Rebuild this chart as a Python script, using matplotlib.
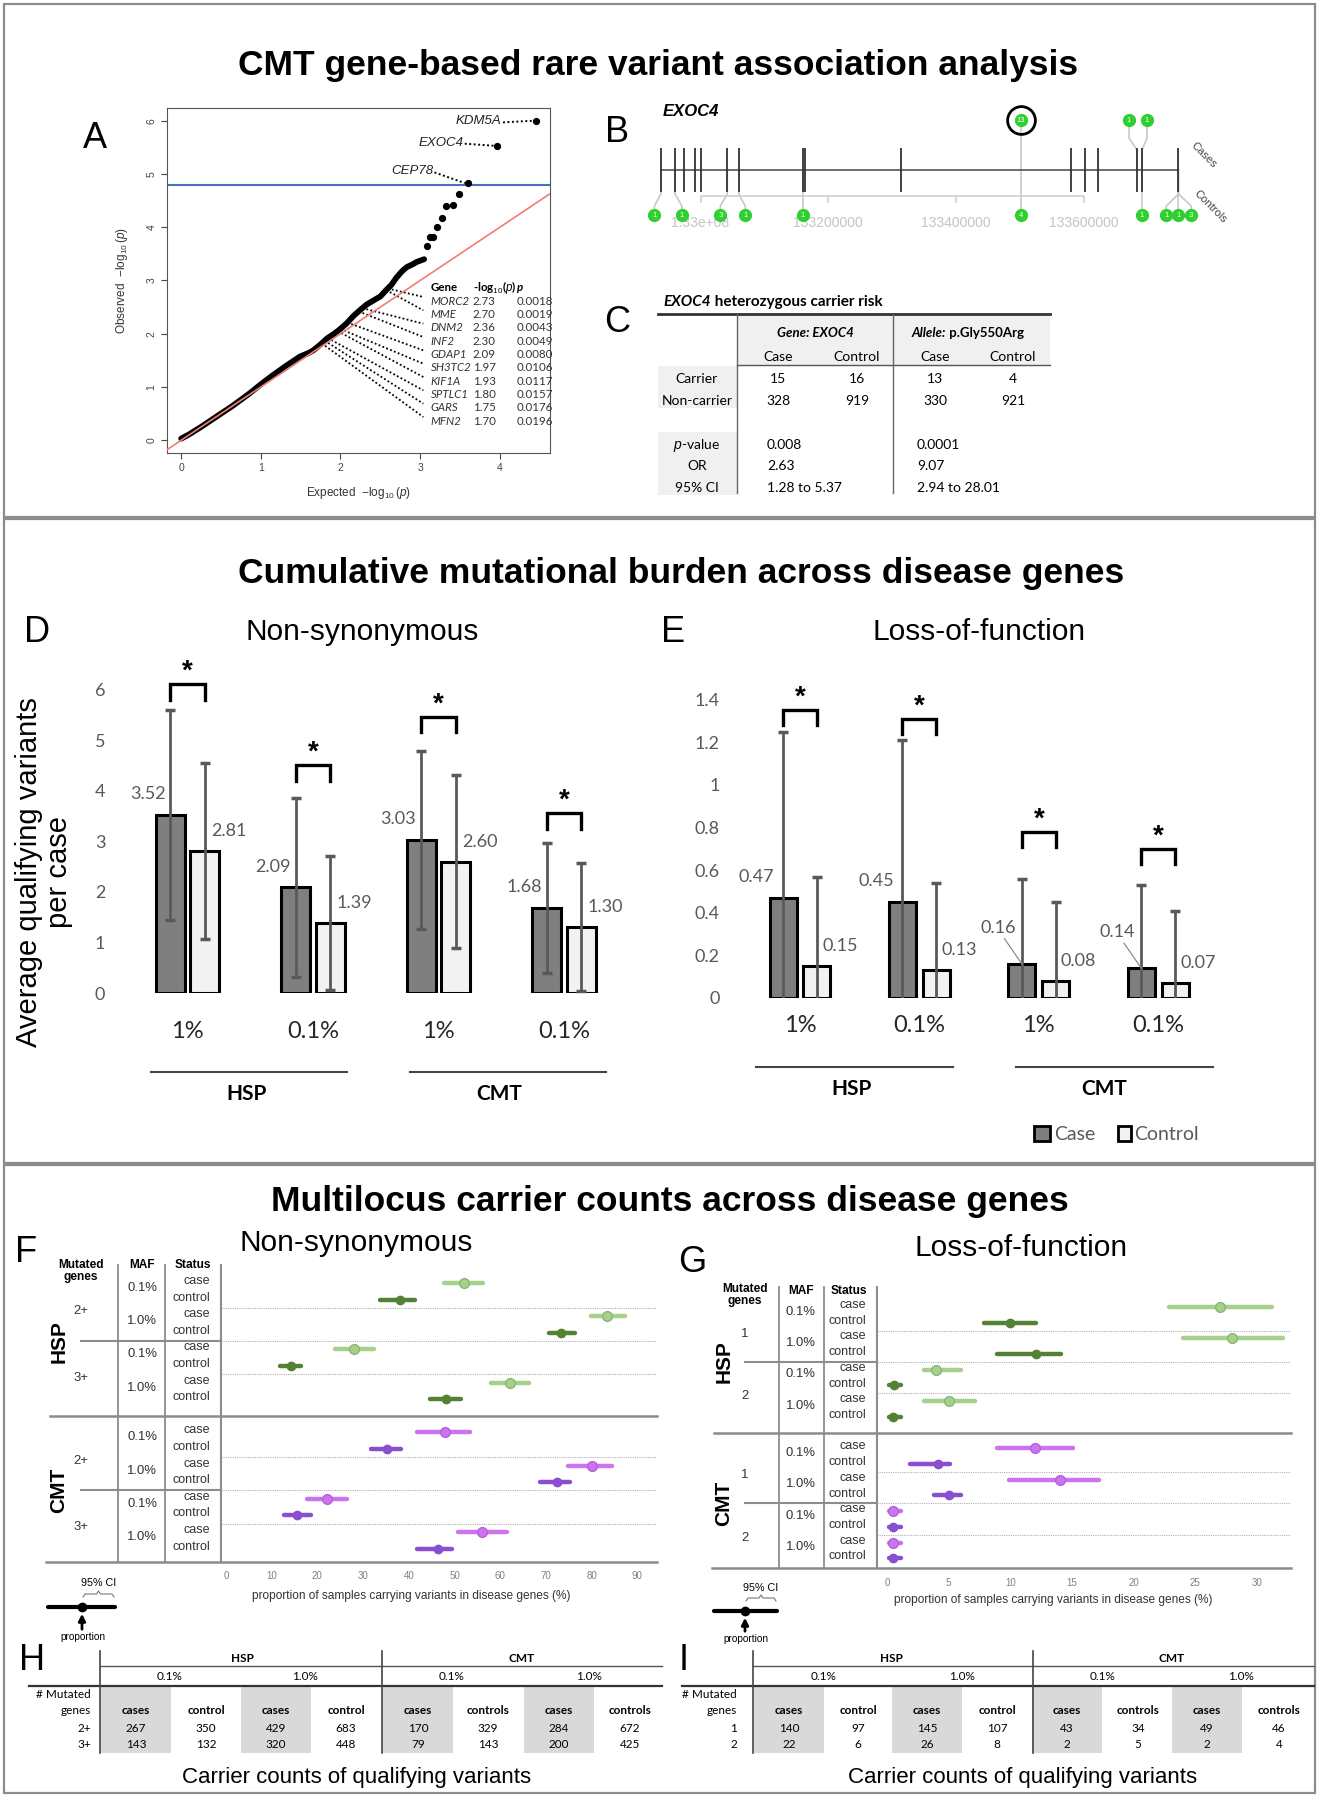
import matplotlib
matplotlib.use('Agg')
import matplotlib.pyplot as plt
import matplotlib.transforms as mtransforms
from matplotlib import font_manager
from matplotlib.patches import Rectangle
import numpy as np

plt.rcParams['font.family'] = 'Liberation Sans'
plt.rcParams['mathtext.fontset'] = 'custom'
plt.rcParams['mathtext.rm'] = 'Liberation Sans'
plt.rcParams['mathtext.it'] = 'Liberation Sans:italic'
plt.rcParams['mathtext.bf'] = 'Liberation Sans:bold'

_names = {f.name for f in font_manager.fontManager.ttflist}
NARROW = 'Liberation Sans Narrow' if 'Liberation Sans Narrow' in _names else 'Liberation Sans'
NS = 1.0 if NARROW != 'Liberation Sans' else 0.86
XL = 'Lato'

W, H = 1322, 1800

# ---------------- data ----------------
# A: gene-based QQ plot
qq_expected = [0.0, 0.1, 0.25, 0.45, 0.65, 0.85, 1.0, 1.15, 1.32, 1.49, 1.6, 1.66, 1.75, 1.83, 1.92,
               1.99, 2.08, 2.16, 2.25, 2.33, 2.42, 2.5, 2.58, 2.64, 2.70, 2.77, 2.83, 2.9, 2.96, 3.05]
qq_observed = [0.03, 0.11, 0.25, 0.45, 0.65, 0.87, 1.05, 1.22, 1.40, 1.57, 1.64, 1.69, 1.8, 1.91, 2.0,
               2.08, 2.2, 2.33, 2.45, 2.55, 2.63, 2.7, 2.83, 2.92, 3.05, 3.17, 3.25, 3.3, 3.35, 3.40]
qq_top_expected = [3.08, 3.12, 3.16, 3.21, 3.27, 3.33, 3.41, 3.49, 3.60, 3.97, 4.45]
qq_top_observed = [3.64, 3.81, 3.81, 4.00, 4.18, 4.40, 4.42, 4.63, 4.83, 5.53, 6.00]
top_genes = ['CEP78', 'EXOC4', 'KDM5A']
bonferroni_line = 4.8
table_genes = ['MORC2', 'MME', 'DNM2', 'INF2', 'GDAP1', 'SH3TC2', 'KIF1A', 'SPTLC1', 'GARS', 'MFN2']
table_logp = [2.73, 2.70, 2.36, 2.30, 2.09, 1.97, 1.93, 1.80, 1.75, 1.70]
table_p = ['0.0018', '0.0019', '0.0043', '0.0049', '0.0080', '0.0106', '0.0117', '0.0157', '0.0176', '0.0196']

# B: EXOC4 variant track
exon_pos = [132938000, 132960000, 132974000, 132991000, 133001000, 133042000, 133060000,
            133160000, 133164000, 133314000, 133580000, 133601000, 133622000, 133683000,
            133691000, 133748000]
case_var_pos = [133501000, 133683000, 133691000]
case_bubble_pos = [133501000, 133670700, 133698800]
case_counts = [13, 1, 1]
ctrl_var_pos = [132938000, 132960000, 133042000, 133060000, 133160000, 133501000,
                133691000, 133748000, 133748000, 133748000]
ctrl_bubble_pos = [132928000, 132971000, 133031000, 133070000, 133160000, 133501000,
                   133691000, 133729000, 133748000, 133768000]
ctrl_counts = [1, 1, 3, 1, 1, 4, 1, 1, 1, 3]
genome_ticks = [133000000, 133200000, 133400000, 133600000]
genome_labels = ['1.33e+08', '133200000', '133400000', '133600000']

# C: EXOC4 carrier table
c_rows = ['Carrier', 'Non-carrier']
c_gene_case = [15, 328]
c_gene_ctrl = [16, 919]
c_allele_case = [13, 330]
c_allele_ctrl = [4, 921]
c_stats = [r'$p$-value', 'OR', '95% CI']
c_gene_stats = ['0.008', '2.63', '1.28 to 5.37']
c_allele_stats = ['0.0001', '9.07', '2.94 to 28.01']

# D / E: cumulative burden
maf_cats = ['1%', '0.1%', '1%', '0.1%']
d_case = [3.52, 2.09, 3.03, 1.68]
d_ctrl = [2.81, 1.39, 2.60, 1.30]
d_case_err = [2.08, 1.78, 1.77, 1.28]
d_ctrl_err = [1.75, 1.33, 1.71, 1.27]
d_bracket = [6.12, 4.51, 5.47, 3.56]
e_case = [0.47, 0.45, 0.16, 0.14]
e_ctrl = [0.15, 0.13, 0.08, 0.07]
e_case_err = [0.78, 0.76, 0.40, 0.39]
e_ctrl_err = [0.42, 0.41, 0.37, 0.34]
e_bracket = [1.35, 1.31, 0.78, 0.70]

# F / G: carrier proportions (%) with 95% CI, rows: HSP then CMT
f_center = [52.1, 38.0, 83.4, 73.2, 28.1, 14.2, 62.2, 48.2, 48.0, 35.2, 80.1, 72.4, 22.0, 15.5, 56.0, 46.4]
f_low = [47.8, 33.8, 79.8, 70.7, 23.8, 11.8, 57.9, 44.7, 41.7, 31.7, 74.9, 68.6, 17.8, 12.7, 50.7, 41.9]
f_high = [56.3, 41.3, 87.2, 76.4, 32.4, 16.4, 66.3, 51.4, 53.3, 38.4, 84.4, 75.3, 26.4, 18.5, 61.4, 49.4]
g_center = [27.0, 10.0, 28.0, 12.1, 4.0, 0.6, 5.0, 0.5, 12.0, 4.1, 14.0, 5.0, 0.5, 0.5, 0.5, 0.5]
g_low = [22.9, 7.9, 24.0, 8.9, 3.0, 0.2, 3.0, 0.2, 8.9, 1.9, 9.9, 3.8, 0.2, 0.2, 0.2, 0.2]
g_high = [31.2, 12.1, 32.1, 14.1, 6.0, 1.1, 7.1, 1.1, 15.1, 5.1, 17.2, 6.0, 1.1, 1.1, 1.1, 1.1]
f_genes = ['2+', '3+']
g_genes = ['1', '2']
diseases = ['HSP', 'CMT']
mafs = ['0.1%', '1.0%']
status = ['case', 'control']

# H / I: carrier counts
tab_status = ['cases', 'control', 'cases', 'control', 'cases', 'controls', 'cases', 'controls']
h_rows = ['2+', '3+']
h_counts = [[267, 350, 429, 683, 170, 329, 284, 672],
            [143, 132, 320, 448, 79, 143, 200, 425]]
i_rows = ['1', '2']
i_counts = [[140, 97, 145, 107, 43, 34, 49, 46],
            [22, 6, 26, 8, 2, 5, 2, 4]]

# colours
CASE_FILL, CTRL_FILL, ERR = '#7f7f7f', '#f2f2f2', '#595959'
HSP_CASE, HSP_CASE_EDGE, HSP_CTRL = '#a6d18a', '#8cb574', '#548235'
CMT_CASE, CMT_CASE_EDGE, CMT_CTRL = '#cc73f0', '#b560dc', '#8a4fd0'
LINE = '#8c8c8c'
GREEN = '#2fcf2f'

fig = plt.figure(figsize=(W / 100, H / 100), dpi=100)
px = fig.add_axes([0, 0, 1, 1])
px.set_xlim(0, W)
px.set_ylim(H, 0)
px.axis('off')


def add_ax(x0, y0, x1, y1):
    a = fig.add_axes([x0 / W, 1 - y1 / H, (x1 - x0) / W, (y1 - y0) / H])
    a.patch.set_alpha(0)
    return a


# frames, titles and panel letters
for y0, y1 in [(4, 517), (519, 1163), (1165, 1793)]:
    px.add_patch(Rectangle((4, y0), 1311, y1 - y0, fill=False, ec=LINE, lw=1.6))
for x, y, t in [(658, 66, 'CMT gene-based rare variant association analysis'),
                (681, 574, 'Cumulative mutational burden across disease genes'),
                (670, 1202, 'Multilocus carrier counts across disease genes')]:
    px.text(x, y, t, ha='center', va='center', fontsize=25.5, fontweight='bold')
for x, y, t in [(95, 138, 'A'), (617, 132, 'B'), (617, 323, 'C'), (37, 632, 'D'), (673, 633, 'E'),
                (26, 1253, 'F'), (692, 1263, 'G'), (32, 1660, 'H'), (684, 1660, 'I')]:
    px.text(x, y, t, ha='center', va='center', fontsize=26)

# ---------------- A ----------------
axA = add_ax(167, 108, 550, 453)
axA.set_xlim(-0.178, 4.63)
axA.set_ylim(-0.24, 6.24)
axA.plot(qq_expected, qq_observed, color='black', lw=4.2, solid_capstyle='round',
         solid_joinstyle='round', zorder=2)
axA.plot(qq_top_expected, qq_top_observed, 'o', color='black', ms=4.2, zorder=2)
axA.axline((0, 0), slope=1, color='#f27b7b', lw=1.2, zorder=3)
axA.axhline(bonferroni_line, color='#4a6fc0', lw=1.5, zorder=1)
axA.set_xticks(range(5))
axA.set_yticks(range(7))
axA.tick_params(labelsize=7.5, colors='#444', length=4, width=0.8)
for lab in axA.get_yticklabels():
    lab.set_rotation(90)
    lab.set_va('center')
for s in axA.spines.values():
    s.set_color('#555')
axA.set_xlabel(r'Expected  $-\log_{10}(p)$', fontsize=8.5, color='#333', labelpad=8)
axA.set_ylabel(r'Observed  $-\log_{10}(p)$', fontsize=8.5, color='#333', labelpad=12)
dots = (0, (1, 1.3))
for g, tx, ty in zip(top_genes, [3.16, 3.54, 4.02], [5.05, 5.59, 5.99]):
    k = top_genes.index(g) - 3
    axA.text(tx, ty, g, ha='right', va='center', fontsize=9.5, style='italic', color='#222')
    axA.plot([tx + 0.02, qq_top_expected[k] - 0.04], [ty - 0.02, qq_top_observed[k]],
             color='black', lw=1.4, ls=dots)
hy = 2.87
axA.text(3.13, hy, 'Gene', fontsize=8.3, fontweight='bold', family=XL, va='center')
axA.text(3.66, hy, r'-log$_{10}$($p$)', fontsize=8.3, fontweight='bold', family=XL, va='center')
axA.text(4.21, hy, 'p', fontsize=8.3, fontweight='bold', style='italic', family=XL, va='center')
for i, (g, lp, p) in enumerate(zip(table_genes, table_logp, table_p)):
    y = 2.61 - 0.2505 * i
    axA.text(3.13, y, g, fontsize=8.3, style='italic', family=XL, va='center', color='#333')
    axA.text(3.66, y, f'{lp:.2f}', fontsize=8.3, family=XL, va='center', color='#333')
    axA.text(4.21, y, p, fontsize=8.3, family=XL, va='center', color='#333')
    sx = np.interp(lp + 0.12, qq_observed, qq_expected)
    axA.plot([sx, 3.04], [lp + 0.12, y + 0.08], color='black', lw=1.3, ls=dots, zorder=1)

# ---------------- B ----------------
def bp(p):
    return 133000000 + (p - 700.5) * 1565


axB = add_ax(640, 90, 1240, 240)
axB.set_xlim(bp(640), bp(1240))
axB.set_ylim(240, 90)
axB.axis('off')
axB.plot([exon_pos[0], exon_pos[-1]], [170, 170], color='#555', lw=1.2)
axB.vlines(exon_pos, 148, 192, color='#333', lw=1.3)
axB.hlines(196, genome_ticks[0], genome_ticks[-1], color='#cfcfcf', lw=1.2)
axB.vlines(genome_ticks, 196, 203, color='#cfcfcf', lw=1.2)
for t, lab in zip(genome_ticks, genome_labels):
    axB.text(t, 223, lab, ha='center', va='center', fontsize=10, color='#c4c4c4')
for xv, xc, n in zip(case_var_pos, case_bubble_pos, case_counts):
    axB.plot([xc, xc, xv, xv], [125, 138, 150, 170], color='#c8c8c8', lw=1.2, zorder=1)
    axB.plot(xc, 120, 'o', ms=8.5, color=GREEN, zorder=3)
    axB.text(xc, 120.5, str(n), ha='center', va='center', fontsize=5.5, color='white', zorder=4)
for xv, xc, n in zip(ctrl_var_pos, ctrl_bubble_pos, ctrl_counts):
    axB.plot([xv, xv, xc, xc], [170, 194, 206, 212], color='#c8c8c8', lw=1.2, zorder=1)
    axB.plot(xc, 215, 'o', ms=8.5, color=GREEN, zorder=3)
    axB.text(xc, 215.5, str(n), ha='center', va='center', fontsize=5.5, color='white', zorder=4)
k13 = case_counts.index(max(case_counts))
axB.plot(case_bubble_pos[k13], 120, 'o', ms=20, mfc='none', mec='black', mew=2, zorder=5)
px.text(663, 112, 'EXOC4', fontsize=12, fontweight='bold', style='italic', va='center')
px.text(1204, 155, 'Cases', rotation=-45, fontsize=8, color='#444', ha='center', va='center')
px.text(1210, 207, 'Controls', rotation=-45, fontsize=8, color='#444', ha='center', va='center')

# ---------------- C ----------------
for x0, y0, x1, y1 in [(737, 315, 1050, 365), (658, 366, 737, 408), (658, 432, 737, 495)]:
    px.add_patch(Rectangle((x0, y0), x1 - x0, y1 - y0, fc='#f0f0f0', ec='none'))
px.plot([658, 1050], [314, 314], color='#333', lw=2)
px.plot([737, 1050], [365, 365], color='#555', lw=1)
for vx in (737, 893):
    px.plot([vx, vx], [314, 493], color='#666', lw=1)
t1 = px.text(663, 302, 'EXOC4', fontsize=11, fontweight='bold', style='italic', family=XL, va='center')
px.annotate(' heterozygous carrier risk', xy=(1, 0.5), xycoords=t1, va='center',
            fontsize=11, fontweight='bold', family=XL)
px.text(815, 333, 'Gene: EXOC4', fontsize=9.5, fontweight='bold', style='italic', family=XL,
        ha='center', va='center')
t2 = px.text(912, 333, 'Allele:', fontsize=9.5, fontweight='bold', style='italic', family=XL, va='center')
px.annotate(' p.Gly550Arg', xy=(1, 0.5), xycoords=t2, va='center', fontsize=9.5,
            fontweight='bold', family=XL)
col_x = [778, 857, 935, 1013]
for x, lab in zip(col_x, ['Case', 'Control', 'Case', 'Control']):
    px.text(x, 357, lab, fontsize=10, family=XL, ha='center', va='center')
for i, lab in enumerate(c_rows):
    y = 379 + 22 * i
    px.text(697, y, lab, fontsize=10, family=XL, ha='center', va='center')
    for x, v in zip(col_x, [c_gene_case[i], c_gene_ctrl[i], c_allele_case[i], c_allele_ctrl[i]]):
        px.text(x, y, str(v), fontsize=10, family=XL, ha='center', va='center')
for i, lab in enumerate(c_stats):
    y = 445 + 21.5 * i
    px.text(697, y, lab, fontsize=10, family=XL, ha='center', va='center')
    px.text(767, y, c_gene_stats[i], fontsize=10, family=XL, va='center')
    px.text(917, y, c_allele_stats[i], fontsize=10, family=XL, va='center')


# ---------------- D / E ----------------
def bar_panel(ax, case, ctrl, case_err, ctrl_err, brackets, leg, star_off, off, bw, ymax,
              yticks, ytl, ypad, xpad, case_lab, ctrl_lab, leaders=None):
    x = np.arange(len(case))
    xa, xb = x - off, x + off
    ax.bar(xa, case, bw, color=CASE_FILL, edgecolor='black', lw=2.2, zorder=2)
    ax.bar(xb, ctrl, bw, color=CTRL_FILL, edgecolor='black', lw=2.2, zorder=2)
    ax.errorbar(xa, case, yerr=case_err, fmt='none', ecolor=ERR, elinewidth=2, capsize=3.5,
                capthick=2.5, zorder=3)
    ax.errorbar(xb, ctrl, yerr=ctrl_err, fmt='none', ecolor=ERR, elinewidth=2, capsize=3.5,
                capthick=2.5, zorder=3)
    for i in range(len(case)):
        top = brackets[i]
        ax.plot([xa[i], xa[i], xb[i], xb[i]], [top - leg, top, top, top - leg], color='black',
                lw=2.4, clip_on=False, solid_joinstyle='miter')
        ax.annotate('*', xy=(x[i], top), xytext=(0, star_off), textcoords='offset points',
                    ha='center', va='baseline', fontsize=20, fontweight='bold')
        if leaders and leaders[i]:
            ax.annotate(f'{case[i]:.2f}', xy=(xa[i], case[i]), xytext=(-4.5, 26),
                        textcoords='offset points', ha='right', va='center', fontsize=13,
                        family=XL, color=ERR,
                        arrowprops=dict(arrowstyle='-', color='#8c8c8c', lw=0.9,
                                        shrinkA=0, shrinkB=0, relpos=(0.6, 0.1)))
        else:
            ax.annotate(f'{case[i]:.2f}', xy=(xa[i] - bw / 2, case[i]), xytext=case_lab,
                        textcoords='offset points', ha='right', va='center', fontsize=13,
                        family=XL, color=ERR)
        ax.annotate(f'{ctrl[i]:.2f}', xy=(xb[i] + bw / 2, ctrl[i]), xytext=ctrl_lab,
                    textcoords='offset points', ha='left', va='center', fontsize=13,
                    family=XL, color=ERR)
    ax.set_ylim(0, ymax)
    ax.set_yticks(yticks, ytl)
    ax.set_xticks(x, maf_cats)
    for s in ax.spines.values():
        s.set_visible(False)
    ax.tick_params(axis='y', length=0, pad=ypad, labelsize=13, labelcolor=ERR)
    ax.tick_params(axis='x', length=0, pad=xpad, labelsize=17, labelcolor='#262626')
    for lab in ax.get_xticklabels() + ax.get_yticklabels():
        lab.set_family(XL)


axD = add_ax(115, 644.5, 630, 993)
axD.set_xlim(-0.578, 3.526)
bar_panel(axD, d_case, d_ctrl, d_case_err, d_ctrl_err, d_bracket, 0.31, 4, 0.139, 0.231, 6.9,
          range(7), [str(v) for v in range(7)], 7, 20, (7, 15), (-6, 14.5))
axE = add_ax(725, 657, 1240, 998)
axE.set_xlim(-0.628, 3.685)
bar_panel(axE, e_case, e_ctrl, e_case_err, e_ctrl_err, e_bracket, 0.07, 4, 0.142, 0.226, 1.6,
          np.arange(0, 1.41, 0.2), ['0', '0.2', '0.4', '0.6', '0.8', '1', '1.2', '1.4'], 4, 12,
          (3.5, 15), (-6, 14.5), leaders=[False, False, True, True])
px.text(362, 632, 'Non-synonymous', fontsize=21.5, ha='center', va='center')
px.text(979, 632, 'Loss-of-function', fontsize=21.5, ha='center', va='center')
px.text(44, 872, 'Average qualifying variants\nper case', rotation=90, fontsize=21,
        ha='center', va='center', linespacing=1.1)
for (x0, x1), lx, lab, y in [((151, 347), 247, 'HSP', 1072), ((410, 606), 499, 'CMT', 1072),
                             ((756, 953), 852, 'HSP', 1067), ((1016, 1213), 1104, 'CMT', 1067)]:
    px.plot([x0, x1], [y, y], color='#444', lw=1.5)
    px.text(lx, y + 22, lab, fontsize=15, fontweight='bold', family=XL, ha='center', va='center')
px.add_patch(Rectangle((1034, 1126), 16, 15, fc=CASE_FILL, ec='black', lw=2))
px.add_patch(Rectangle((1118, 1126), 13, 15, fc=CTRL_FILL, ec='black', lw=2))
px.text(1054, 1134, 'Case', fontsize=14, family=XL, color=ERR, va='center')
px.text(1134, 1134, 'Control', fontsize=14, family=XL, color=ERR, va='center')

# ---------------- F / G ----------------
rows = [0, 1, 2, 3, 4, 5, 6, 7, 9, 10, 11, 12, 13, 14, 15, 16]
TXT = '#333'


def forest(ax, center, low, high, genes, lay):
    tr = mtransforms.blended_transform_factory(px.transData, ax.transData)
    bottom, top = ax.get_ylim()
    for k, y in enumerate(rows):
        hsp, case = k < 8, k % 2 == 0
        if case:
            col = HSP_CASE if hsp else CMT_CASE
            edge = HSP_CASE_EDGE if hsp else CMT_CASE_EDGE
            ms = 7
        else:
            col = edge = HSP_CTRL if hsp else CMT_CTRL
            ms = 6
        ax.plot([low[k], high[k]], [y, y], color=col, lw=3.2, solid_capstyle='round', zorder=3)
        ax.plot([center[k]], [y], 'o', ms=ms, mfc=col, mec=edge, mew=1, zorder=4, clip_on=False)
        ax.text(lay['status_x'], y - 0.12, status[k % 2], transform=tr, ha='right', va='center',
                fontsize=10.5 * NS, family=NARROW, color=TXT)
    for b, start in enumerate([0, 9]):
        ax.text(lay['dis_x'], start + 3.5, diseases[b], transform=tr, rotation=90, ha='center',
                va='center', fontsize=15, fontweight='bold')
        for g in range(2):
            ax.text(lay['genes_x'], start + 4 * g + 1.7, genes[g], transform=tr, ha='center',
                    va='center', fontsize=11 * NS, family=NARROW, color=TXT)
            for m in range(2):
                ax.text(lay['maf_x'], start + 4 * g + 2 * m + 0.3, mafs[m], transform=tr,
                        ha='center', va='center', fontsize=11 * NS, family=NARROW, color=TXT)
    for y in [1.5, 3.5, 5.5, 10.5, 12.5, 14.5]:
        ax.axhline(y, color='#b0b0b0', lw=0.8, ls=(0, (1, 1)), zorder=1)
    for y in [3.5, 12.5]:
        ax.plot([lay['genes_x'], lay['ax_left']], [y, y], transform=tr, color=LINE, lw=1.5,
                clip_on=False)
    ax.plot([lay['long_x0'], lay['ax_right']], [8, 8], transform=tr, color=LINE, lw=1.8,
            clip_on=False)
    ax.plot([lay['bot_x0'], lay['ax_right']], [bottom, bottom], transform=tr, color=LINE, lw=1.8,
            clip_on=False)
    for vx in (lay['v1'], lay['v2']):
        ax.plot([vx, vx], [top, bottom], transform=tr, color=LINE, lw=1.3, clip_on=False)
    ax.text(lay['genes_x'], lay['hdr_genes_y'], 'Mutated\ngenes', transform=tr, ha='center',
            va='center', fontsize=10 * NS, family=NARROW, fontweight='bold', linespacing=1.0)
    ax.text(lay['maf_x'], lay['hdr_y'], 'MAF', transform=tr, ha='center', va='center',
            fontsize=10 * NS, family=NARROW, fontweight='bold')
    ax.text(lay['status_hdr_x'], lay['hdr_y'], 'Status', transform=tr, ha='center', va='center',
            fontsize=10 * NS, family=NARROW, fontweight='bold')
    for s in ['top', 'right', 'bottom']:
        ax.spines[s].set_visible(False)
    ax.spines['left'].set_color(LINE)
    ax.spines['left'].set_linewidth(1.5)
    ax.set_yticks([])
    ax.tick_params(axis='x', length=0, labelsize=7, labelcolor='#808080', pad=lay['xpad'])
    px.text(lay['xlab_x'], lay['xlab_y'], 'proportion of samples carrying variants in disease genes (%)',
            ha='center', va='center', fontsize=10 * NS, family=NARROW, color=TXT)


def ci_legend(x0, x1, xd, yl, yci, yb, yp):
    px.plot([x0, x1], [yl, yl], color='black', lw=3, solid_capstyle='round')
    px.plot(xd, yl, 'o', color='black', ms=6)
    px.annotate('', xy=(xd, yl + 4), xytext=(xd, yp - 5),
                arrowprops=dict(arrowstyle='-|>', color='black', lw=2, mutation_scale=10))
    px.text(xd + 1, yp, 'proportion', ha='center', va='center', fontsize=8.5 * NS, family=NARROW)
    mid = (xd + x1) / 2
    px.text(mid, yci, '95% CI', ha='center', va='center', fontsize=9 * NS, family=NARROW)
    px.plot([xd + 1, xd + 3, mid - 2, mid, mid + 2, x1 - 3, x1 - 1],
            [yb + 3, yb, yb, yb - 3, yb, yb, yb + 3], color='#777', lw=0.8)


axF = add_ax(221, 1265, 657, 1562)
axF.set_xlim(-1.09, 94.3)
axF.set_ylim(16.81, -1.084)
axF.set_xticks(range(0, 91, 10))
forest(axF, f_center, f_low, f_high, f_genes,
       dict(genes_x=81, maf_x=142, status_x=210, status_hdr_x=193, v1=118, v2=165,
            long_x0=50, bot_x0=46, dis_x=59, hdr_y=-1.08, hdr_genes_y=-0.75,
            ax_left=221, ax_right=657, xpad=6.5, xlab_x=411, xlab_y=1596))
ci_legend(47.5, 115, 82, 1607, 1583, 1594, 1637)
px.text(356, 1243, 'Non-synonymous', fontsize=21.5, ha='center', va='center')

axG = add_ax(877, 1287, 1291, 1568)
axG.set_xlim(-0.81, 32.77)
axG.set_ylim(16.62, -1.27)
axG.set_xticks(range(0, 31, 5))
forest(axG, g_center, g_low, g_high, g_genes,
       dict(genes_x=745, maf_x=801, status_x=866, status_hdr_x=849, v1=779, v2=824,
            long_x0=714, bot_x0=712, dis_x=724, hdr_y=-1.0, hdr_genes_y=-0.73,
            ax_left=877, ax_right=1291, xpad=7, xlab_x=1053, xlab_y=1600))
ci_legend(714, 777, 745, 1611, 1588, 1598, 1639)
px.text(1021, 1248, 'Loss-of-function', fontsize=21.5, ha='center', va='center')


# ---------------- H / I ----------------
def count_table(cols, v1, v2, x_left, x_right, lab_x, dis_x, maf_x, row_labels, counts, cx):
    fs = 8.5
    for j in range(0, 8, 2):
        px.add_patch(Rectangle((cols[j] - 35, 1687), 70, 66, fc='#d9d9d9', ec='none'))
    px.plot([v1, x_right], [1666, 1666], color='#555', lw=1)
    px.plot([x_left, x_right], [1686, 1686], color='#333', lw=1.6)
    for vx in (v1, v2):
        px.plot([vx, vx], [1651, 1753], color='#444', lw=1.2)
    for x, lab in zip(dis_x, diseases):
        px.text(x, 1659, lab, fontsize=fs, fontweight='bold', family=XL, ha='center', va='center')
    for x, lab in zip(maf_x, mafs * 2):
        px.text(x, 1676, lab, fontsize=fs, family=XL, ha='center', va='center')
    px.text(lab_x, 1694, '# Mutated', fontsize=fs, family=XL, ha='right', va='center')
    px.text(lab_x, 1711, 'genes', fontsize=fs, family=XL, ha='right', va='center')
    for x, lab in zip(cols, tab_status):
        px.text(x, 1711, lab, fontsize=fs, fontweight='bold', family=XL, ha='center', va='center')
    for r, lab in enumerate(row_labels):
        y = 1728 + 16 * r
        px.text(lab_x, y, lab, fontsize=fs, family=XL, ha='right', va='center')
        for x, v in zip(cols, counts[r]):
            px.text(x, y, str(v), fontsize=fs, family=XL, ha='center', va='center')
    px.text(cx, 1778, 'Carrier counts of qualifying variants', fontsize=16, ha='center', va='center')


count_table([136, 206, 276, 346, 418, 488, 559, 630], 100, 382, 29, 662, 91, [242, 522],
            [170, 305, 452, 589], h_rows, h_counts, 357)
count_table([789, 858, 927, 997, 1067, 1138, 1207, 1279], 753, 1033, 682, 1314, 737, [891, 1172],
            [824, 962, 1103, 1241], i_rows, i_counts, 1023)

fig.savefig('out.png', dpi=100)
